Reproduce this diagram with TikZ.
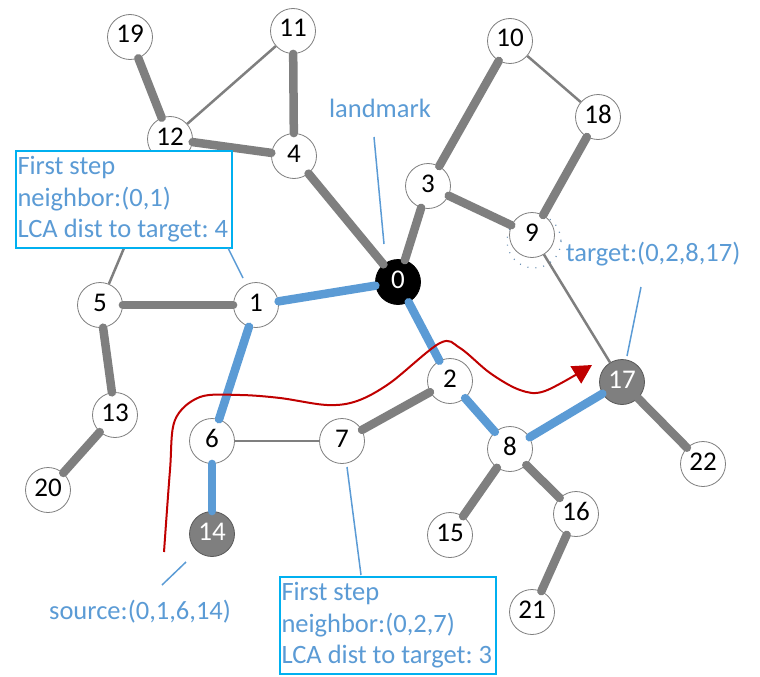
\documentclass[tikz,border=0pt]{standalone}
\usepackage{fontspec}
\setmainfont{Carlito}
\frenchspacing
\usetikzlibrary{arrows.meta}
\definecolor{eg}{HTML}{7F7F7F}
\definecolor{eb}{HTML}{5B9BD5}
\definecolor{bx}{HTML}{00B0F0}
\definecolor{rd}{HTML}{C00000}
\begin{document}
\begin{tikzpicture}[x=1pt,y=-1pt,
  vn/.style={circle, draw=eg, line width=0.8pt, fill=white, minimum size=45pt, inner sep=0pt,
    font=\fontsize{27}{27}\selectfont, text height=18pt, text depth=6pt},
  vblack/.style={vn, fill=black, draw=black, text=white},
  vgray/.style={vn, fill=eg, draw=eg!70!black, text=white},
  thick/.style={draw=eg, line width=8.5pt, line cap=round},
  thinE/.style={draw=eg, line width=2.5pt},
  blueE/.style={draw=eb, line width=8.5pt, line cap=round},
  ptr/.style={draw=eb, line width=1.5pt},
  lbl/.style={text=eb, font=\fontsize{26.5}{31.5}\selectfont, inner sep=0pt},
  infobox/.style={draw=bx, line width=2pt, fill=white, text=eb, font=\fontsize{26.5}{31.5}\selectfont,
    align=flush left, inner xsep=1.5pt, inner ysep=0pt, text width=213pt, minimum height=97pt, anchor=north west}
]
\useasboundingbox (0,0) rectangle (760,677);
% dotted halo around 9
\draw[draw=eb!60!gray, line width=1.2pt, dash pattern=on 1pt off 7pt] (534,241) circle[radius=27];
% nodes
\node[vblack] (n0) at (398,282) {0};
\node[vn] (n1) at (256,305) {1};
\node[vn] (n2) at (450,381) {2};
\node[vn] (n3) at (428,186) {3};
\node[vn] (n4) at (294,156) {4};
\node[vn] (n5) at (100,305) {5};
\node[vn] (n6) at (212,441) {6};
\node[vn] (n7) at (342,441) {7};
\node[vn] (n8) at (510,449) {8};
\node[vn] (n9) at (532,235) {9};
\node[vn] (n10) at (510,41) {10};
\node[vn] (n11) at (293,31) {11};
\node[vn] (n12) at (170,139) {12};
\node[vn] (n13) at (115,415) {13};
\node[vgray] (n14) at (212,534) {14};
\node[vn] (n15) at (450,535) {15};
\node[vn] (n16) at (576,514) {16};
\node[vgray] (n17) at (622,382) {17};
\node[vn] (n18) at (598,117) {18};
\node[vn] (n19) at (130,37) {19};
\node[vn] (n20) at (48,490) {20};
\node[vn] (n21) at (532,612) {21};
\node[vn] (n22) at (703,464) {22};
% thin edges
\draw[thinE] (n12) -- (n11);
\draw[thinE] (n10) -- (n18);
\draw[thinE] (n9) -- (n17);
\draw[thinE] (n6) -- (n7);
\draw[thinE] (n5) -- (n12);
% thick gray edges
\draw[thick] (n19) -- (n12);
\draw[thick] (n11) -- (n4);
\draw[thick] (n12) -- (n4);
\draw[thick] (n4) -- (n0);
\draw[thick] (n3) -- (n0);
\draw[thick] (n3) -- (n10);
\draw[thick] (n3) -- (n9);
\draw[thick] (n9) -- (n18);
\draw[thick] (n5) -- (n1);
\draw[thick] (n5) -- (n13);
\draw[thick] (n13) -- (n20);
\draw[thick] (n7) -- (n2);
\draw[thick] (n8) -- (n15);
\draw[thick] (n8) -- (n16);
\draw[thick] (n16) -- (n21);
\draw[thick] (n17) -- (n22);
% blue path edges
\draw[blueE] (n0) -- (n1);
\draw[blueE] (n1) -- (n6);
\draw[blueE] (n6) -- (n14);
\draw[blueE] (n0) -- (n2);
\draw[blueE] (n2) -- (n8);
\draw[blueE] (n8) -- (n17);
% info boxes
\node[infobox] (b1) at (15,150) {First step\\neighbor:(0,1)\\LCA dist to target: 4};
\node[infobox] (b2) at (279,576) {First step\\neighbor:(0,2,7)\\LCA dist to target: 3};
% labels
\node[lbl] (lm) at (380,108) {landmark};
\node[lbl] (tg) at (653,254) {target:(0,2,8,17)};
\node[lbl] (sr) at (140,612) {source:(0,1,6,14)};
% pointers
\coordinate (lmA) at (374,137); \coordinate (lmB) at (384,244);
\coordinate (tgA) at (641,287); \coordinate (tgB) at (627,356);
\coordinate (srA) at (162,585); \coordinate (srB) at (186,562);
\coordinate (b1A) at (228,248); \coordinate (b1B) at (243,278);
\coordinate (b2A) at (347,467); \coordinate (b2B) at (361,575);
\draw[ptr] (lmA) -- (lmB);
\draw[ptr] (tgA) -- (tgB);
\draw[ptr] (srA) -- (srB);
\draw[ptr] (b1A) -- (b1B);
\draw[ptr] (b2A) -- (b2B);
% red route
\draw[rd, line width=2pt, -{Triangle[length=19pt,width=20pt]}]
  plot[smooth, tension=0.55] coordinates {(164,552) (170,470) (175,420) (200,397) (240,395) (280,398) (327,405) (357,401) (390,383) (440,343) (460,348) (490,373) (520,390) (545,391) (592,365)};
\end{tikzpicture}
\end{document}
